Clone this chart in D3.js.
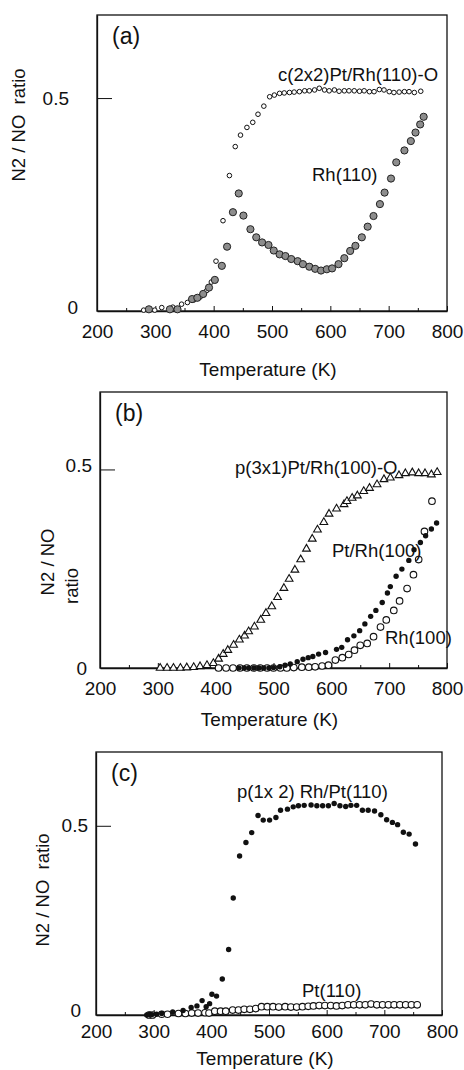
<!DOCTYPE html>
<html lang="en">
<head>
<meta charset="UTF-8">
<title>N2 / NO ratio vs temperature</title>
<script src="https://cdnjs.cloudflare.com/ajax/libs/d3/7.8.5/d3.min.js"></script>
<style>
  body { margin: 0; background: #fff; }
  text { font-family: "Liberation Sans", Arial, sans-serif; fill: #111; }
  .domain, .tick line { stroke: #111; }
</style>
</head>
<body>
<svg id="chart" width="464" height="1070"></svg>
<script>
// tick values shared by all three panels
const xMajor = [200, 300, 400, 500, 600, 700, 800];
const xMinor = [250, 350, 450, 550, 650, 750];
const yTicks = [0, 0.5];

// (a) [temperature K, N2/NO ratio]
const ptRh110O = [[280,0.002],[299,0.002],[311,0.008],[330,0.009],[345,0.016],[355,0.02],[366,0.026],[377,0.033],[388,0.048],[396,0.068],
  [404,0.117],[416,0.212],[427,0.318],[437,0.386],[446,0.413],[457,0.431],[467,0.443],[476,0.462],[486,0.481],
  [496,0.503],[504,0.507],[513,0.511],[521,0.512],[530,0.513],[538,0.514],[547,0.515],[556,0.517],[564,0.517],[573,0.519],
  [581,0.523],[590,0.519],[598,0.517],[607,0.519],[615,0.516],[624,0.517],[632,0.517],[641,0.517],[650,0.516],[658,0.517],
  [667,0.515],[675,0.515],[684,0.52],[692,0.519],[701,0.515],[709,0.513],[718,0.514],[727,0.515],[735,0.515],[744,0.513],[755,0.516]];
const rh110 = [[289,0.004],[325,0.004],[338,0.004],[363,0.028],[372,0.031],[382,0.04],[392,0.055],[402,0.073],[414,0.106],
  [423,0.151],[433,0.232],[443,0.276],[451,0.224],[463,0.192],[473,0.173],[483,0.161],[494,0.155],[503,0.142],[513,0.133],
  [523,0.129],[533,0.122],[544,0.117],[553,0.11],[564,0.104],[574,0.099],[584,0.095],[594,0.098],[603,0.1],[614,0.11],
  [624,0.124],[634,0.141],[643,0.153],[654,0.173],[664,0.198],[674,0.223],[685,0.251],[693,0.278],[704,0.311],[713,0.349],
  [727,0.377],[738,0.399],[746,0.419],[754,0.438],[760,0.456]];

// (b)
const p3x1 = [[304,0],[316,0],[327,0],[339,0],[350,0.001],[362,0.002],[373,0.004],[385,0.007],[396,0.012],[405,0.023],
  [413,0.035],[421,0.045],[431,0.058],[441,0.071],[450,0.081],[457,0.092],[467,0.104],[478,0.121],[487,0.138],[497,0.155],
  [507,0.178],[518,0.201],[527,0.224],[537,0.247],[547,0.273],[557,0.3],[567,0.325],[576,0.348],[587,0.367],[596,0.388],
  [609,0.401],[622,0.412],[627,0.42],[636,0.428],[645,0.434],[656,0.445],[666,0.453],[679,0.462],[691,0.475],[702,0.479],
  [717,0.485],[728,0.49],[740,0.492],[751,0.49],[762,0.49],[773,0.487],[783,0.493]];
const ptRh100 = [[440,0],[449,0],[457,0],[466,0],[475,0],[483,0],[492,0],[500,0.001],[511,0.003],[520,0.007],[529,0.01],
  [541,0.016],[551,0.022],[560,0.026],[568,0.029],[578,0.035],[590,0.039],[609,0.047],[618,0.052],[628,0.071],[639,0.081],
  [649,0.094],[658,0.111],[668,0.13],[677,0.145],[688,0.165],[697,0.189],[702,0.205],[712,0.231],[722,0.249],[734,0.271],
  [743,0.298],[754,0.316],[763,0.333],[773,0.35],[782,0.365]];
const rh100 = [[405,0],[418,0],[430,0],[442,0],[454,0],[466,0],[477,0],[489,0],[500,0],[512,0],[523,0],[535,0.001],
  [549,0.002],[561,0.002],[572,0.003],[584,0.005],[595,0.007],[607,0.02],[619,0.026],[630,0.034],[640,0.045],[650,0.057],
  [662,0.062],[673,0.079],[685,0.103],[695,0.121],[708,0.145],[718,0.169],[731,0.2],[742,0.235],[751,0.273],[761,0.344],[774,0.42]];

// (c)
const p1x2 = [[288,0],[293,0.002],[297,0.001],[305,0.002],[314,0.004],[333,0.008],[351,0.012],[365,0.02],[375,0.024],
  [384,0.038],[391,0.022],[397,0.03],[401,0.055],[409,0.05],[419,0.095],[430,0.173],[438,0.309],[449,0.42],[460,0.456],
  [470,0.482],[481,0.527],[490,0.515],[501,0.515],[512,0.522],[520,0.541],[532,0.544],[542,0.55],[551,0.553],[561,0.554],
  [573,0.555],[583,0.553],[593,0.553],[603,0.553],[613,0.559],[623,0.553],[633,0.551],[642,0.554],[652,0.554],[662,0.541],
  [672,0.541],[683,0.539],[694,0.529],[704,0.516],[714,0.509],[723,0.503],[733,0.483],[743,0.478],[754,0.452]];
const pt110 = [[292,0],[298,0],[314,0.002],[324,0.002],[343,0.004],[355,0.004],[366,0.005],[377,0.005],[389,0.006],[396,0.005],
  [406,0.01],[416,0.01],[425,0.01],[437,0.013],[447,0.013],[457,0.015],[467,0.015],[477,0.017],[487,0.022],[497,0.022],
  [507,0.022],[517,0.021],[528,0.022],[538,0.021],[548,0.021],[558,0.022],[568,0.023],[577,0.024],[587,0.025],[597,0.025],
  [607,0.025],[617,0.024],[627,0.025],[637,0.027],[647,0.027],[657,0.027],[667,0.027],[677,0.029],[687,0.027],[697,0.027],
  [707,0.027],[717,0.027],[727,0.027],[737,0.027],[747,0.027],[757,0.027]];

const svg = d3.select("#chart");

// marker styles
const styles = {
  smallOpen: { shape: "circle", r: 2.3, fill: "#fff", stroke: "#111", sw: 1 },
  grey:      { shape: "circle", r: 3.6, fill: "#8d8d8d", stroke: "#222", sw: 1 },
  tri:       { shape: "tri", size: 26, fill: "#fff", stroke: "#111", sw: 1.1 },
  dot:       { shape: "circle", r: 2.7, fill: "#111", stroke: "none", sw: 0 },
  open:      { shape: "circle", r: 3.3, fill: "#fff", stroke: "#111", sw: 1.1 }
};

const panels = [
  { tag: "(a)", x0: 97, x1: 447, y0: 311, y1: 15, pad: 14, titleY: 376,
    yLab: [{ t: "N2 / NO  ratio", x: 19, y: 125 }],
    yGap: { 0: [19, -4], 0.5: [28, 0] },
    series: [{ d: ptRh110O, s: styles.smallOpen }, { d: rh110, s: styles.grey }],
    notes: [{ t: "c(2x2)Pt/Rh(110)-O", x: 278, y: 81 }, { t: "Rh(110)", x: 312, y: 181 }] },
  { tag: "(b)", x0: 100, x1: 447, y0: 668, y1: 392, pad: 14, titleY: 726,
    yLab: [{ t: "N2 / NO", x: 48, y: 562 }, { t: "ratio", x: 72, y: 586 }],
    yGap: { 0: [13, 0], 0.5: [8, -4] },
    series: [{ d: p3x1, s: styles.tri }, { d: rh100, s: styles.open }, { d: ptRh100, s: styles.dot }],
    notes: [{ t: "p(3x1)Pt/Rh(100)-O", x: 235, y: 474 }, { t: "Pt/Rh(100)", x: 332, y: 557 }, { t: "Rh(100)", x: 385, y: 644 }] },
  { tag: "(c)", x0: 96, x1: 442, y0: 1015, y1: 752, pad: 10, titleY: 1065,
    yLab: [{ t: "N2 / NO  ratio", x: 43, y: 890 }],
    yGap: { 0: [15, -5], 0.5: [8, 0] },
    series: [{ d: pt110, s: styles.open }, { d: p1x2, s: styles.dot }],
    notes: [{ t: "p(1x 2) Rh/Pt(110)", x: 237, y: 798 }, { t: "Pt(110)", x: 302, y: 997 }] }
];

panels.forEach(p => {
  const x = d3.scaleLinear().domain([200, 800]).range([p.x0, p.x1]);
  const y = d3.scaleLinear().domain([0, 0.695]).range([p.y0, p.y1]);
  const g = svg.append("g");

  // frame
  g.append("rect")
    .attr("x", p.x0).attr("y", p.y1)
    .attr("width", p.x1 - p.x0).attr("height", p.y0 - p.y1)
    .attr("fill", "none").attr("stroke", "#111").attr("stroke-width", 1.3);

  // x axis, ticks point inward
  const xa = g.append("g").attr("transform", `translate(0,${p.y0})`)
    .call(d3.axisBottom(x).tickValues(xMajor).tickSizeInner(-5).tickSizeOuter(0).tickPadding(p.pad));
  xa.selectAll("text").attr("font-size", 19);
  xa.select(".domain").attr("stroke-width", 1.3);
  g.append("g").attr("transform", `translate(0,${p.y0})`)
    .call(d3.axisBottom(x).tickValues(xMinor).tickSizeInner(-3).tickSizeOuter(0).tickFormat(""))
    .select(".domain").remove();

  // y axis with only the 0.5 tick drawn inward
  const ya = g.append("g").attr("transform", `translate(${p.x0},0)`)
    .call(d3.axisLeft(y).tickValues([0.5]).tickSizeInner(-15).tickSizeOuter(0).tickFormat(""));
  ya.select(".domain").attr("stroke-width", 1.3);
  yTicks.forEach(v => {
    g.append("text")
      .attr("x", p.x0 - p.yGap[v][0])
      .attr("y", y(v) + p.yGap[v][1])
      .attr("dy", "0.35em")
      .attr("text-anchor", "end")
      .attr("font-size", 19)
      .text(v === 0 ? "0" : "0.5");
  });

  // axis titles
  g.append("text")
    .attr("x", (p.x0 + p.x1) / 2 - 4).attr("y", p.titleY)
    .attr("text-anchor", "middle").attr("font-size", 19)
    .text("Temperature (K)");
  p.yLab.forEach(l => {
    g.append("text")
      .attr("transform", `translate(${l.x},${l.y}) rotate(-90)`)
      .attr("dy", "0.35em")
      .attr("text-anchor", "middle").attr("font-size", 18.5)
      .style("white-space", "pre")
      .text(l.t);
  });

  // data markers
  p.series.forEach(sr => {
    const s = sr.s;
    const sel = g.append("g").selectAll("path").data(sr.d).enter();
    if (s.shape === "circle") {
      sel.append("circle")
        .attr("cx", d => x(d[0])).attr("cy", d => y(d[1])).attr("r", s.r)
        .attr("fill", s.fill).attr("stroke", s.stroke).attr("stroke-width", s.sw);
    } else {
      sel.append("path")
        .attr("d", d3.symbol().type(d3.symbolTriangle).size(s.size))
        .attr("transform", d => `translate(${x(d[0])},${y(d[1])})`)
        .attr("fill", s.fill).attr("stroke", s.stroke).attr("stroke-width", s.sw);
    }
  });

  // panel tag and curve labels
  g.append("text").attr("x", p.x0 + 15).attr("y", p.y1 + 29).attr("font-size", 23).text(p.tag);
  p.notes.forEach(n => {
    g.append("text").attr("x", n.x).attr("y", n.y).attr("font-size", 18.5).text(n.t);
  });
});
</script>
</body>
</html>
